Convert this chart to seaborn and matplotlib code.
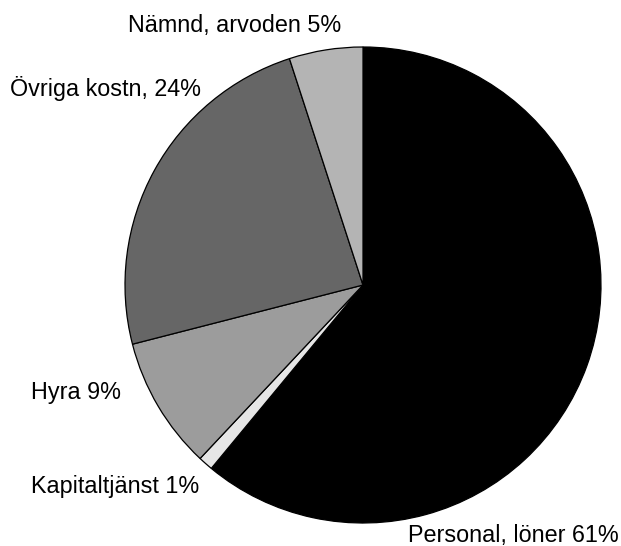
import matplotlib
matplotlib.use("Agg")
import matplotlib.pyplot as plt
import seaborn as sns

categories = ["Personal, löner", "Kapitaltjänst", "Hyra", "Övriga kostn,", "Nämnd, arvoden"]
values = [61, 1, 9, 24, 5]
label_texts = ["Personal, löner 61%", "Kapitaltjänst 1%", "Hyra 9%",
               "Övriga kostn, 24%", "Nämnd, arvoden 5%"]
colors = ["#000000", "#e6e6e6", "#9c9c9c", "#666666", "#b4b4b4"]

sns.set_theme(style="white")
plt.rcParams["font.family"] = ["Liberation Sans", "DejaVu Sans"]

W, H = 621, 546
cx, cy, r = 363, 285, 238
fig = plt.figure(figsize=(W / 100, H / 100), dpi=100)
fig.patch.set_facecolor("white")
ax = fig.add_axes([(cx - r) / W, (H - cy - r) / H, 2 * r / W, 2 * r / H])
ax.set_axis_off()

ax.pie(values, colors=colors, startangle=90, counterclock=False, radius=1,
       wedgeprops=dict(edgecolor="black", linewidth=0.9))
ax.set_xlim(-1, 1)
ax.set_ylim(-1, 1)


def px(x, y):
    return (x - cx) / r, (cy - y) / r


# label anchor positions (pixel coords of text baseline)
label_pos = [(408, 541.7, "left"), (31, 493, "left"), (31, 399.3, "left"),
             (10, 95.7, "left"), (234.5, 32, "center")]
for txt, (x, y, ha) in zip(label_texts, label_pos):
    dx, dy = px(x, y)
    ax.text(dx, dy, txt, ha=ha, va="baseline", fontsize=16.8, color="black",
            clip_on=False)

fig.savefig("out.png", dpi=100, facecolor="white")
